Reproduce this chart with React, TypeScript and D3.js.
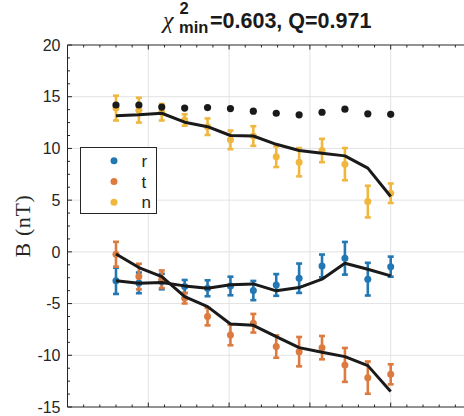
import React from "react";
import * as d3 from "d3";

const times = [36, 53, 70, 87, 104, 121, 138, 155, 172, 189, 206, 223, 240];
const bMag = [14.2, 14.2, 14.0, 13.9, 13.95, 13.85, 13.6, 13.4, 13.25, 13.5, 13.8, 13.35, 13.3];
const rObs = [-2.8, -3.0, -2.87, -3.35, -3.52, -3.3, -3.74, -3.2, -2.55, -1.36, -0.62, -2.64, -1.43];
const rErr = [1.27, 1.0, 0.75, 0.63, 0.77, 0.9, 0.93, 1.05, 1.42, 1.1, 1.58, 1.58, 0.97];
const tObs = [-0.23, -2.39, -2.65, -4.48, -6.26, -8.03, -6.9, -9.16, -9.65, -9.26, -10.93, -12.16, -11.84];
const tErr = [1.2, 1.24, 0.85, 0.51, 0.85, 1.0, 0.9, 1.08, 1.42, 1.13, 1.64, 1.56, 0.97];
const nObs = [13.9, 13.7, 13.5, 12.75, 12.1, 10.83, 11.2, 9.2, 8.67, 9.8, 8.48, 4.86, 5.67];
const nErr = [1.2, 1.2, 0.8, 0.55, 0.8, 0.9, 0.95, 1.0, 1.37, 1.13, 1.56, 1.53, 0.94];
const rFit = [-2.8, -3.03, -2.97, -3.29, -3.52, -3.19, -3.1, -3.77, -3.45, -2.64, -1.1, -1.68, -2.32];
const tFit = [-0.2, -1.52, -2.39, -4.33, -5.29, -6.97, -7.1, -8.19, -9.26, -9.71, -10.13, -11.0, -13.5];
const nFit = [13.15, 13.25, 13.4, 12.54, 12.1, 11.25, 11.2, 10.4, 9.8, 9.54, 9.28, 8.1, 5.35];

const seriesNames = ["r", "t", "n"];
const seriesColors = ["#2377b3", "#dc7b3f", "#f0b73e"];
const yTicks = [-15, -10, -5, 0, 5, 10, 15, 20];
const xMajor = [0, 60, 120, 180, 240, 300];

const W = 464;
const H = 416;

export default function App() {
  const x = d3.scaleLinear().domain([0, 300]).range([67.5, 471.5]);
  const y = d3.scaleLinear().domain([-15, 20]).range([407, 45]);
  const obs = [rObs, tObs, nObs];
  const errs = [rErr, tErr, nErr];
  const fits = [rFit, tFit, nFit];
  const line = d3
    .line<number>()
    .x((_, i) => x(times[i]))
    .y((d) => y(d));
  const xMinor = d3.range(0, 301, 12).filter((v) => v % 60 !== 0);
  const yMinor = d3.range(-15, 20.01, 1.25).filter((v) => Math.abs(v % 5) > 1e-6);
  const [x0, x1] = x.range();
  const [yb, yt] = y.range();
  const cx = (x0 + x1) / 2;
  const axisCol = "#262626";
  const sans = "'Liberation Sans', Arial, Helvetica, sans-serif";

  return (
    <svg
      width={W}
      height={H}
      style={{ position: "absolute", left: 0, top: 0, background: "#fff" }}
    >
      <rect x={0} y={0} width={W} height={H} fill="#fff" />
      {xMajor.slice(1, -1).map((v) => (
        <line key={"gx" + v} x1={x(v)} x2={x(v)} y1={yb} y2={yt} stroke="#e3e3e3" strokeWidth={1} />
      ))}
      {yTicks.slice(1, -1).map((v) => (
        <line key={"gy" + v} x1={x0} x2={x1} y1={y(v)} y2={y(v)} stroke="#e3e3e3" strokeWidth={1} />
      ))}
      {obs.map((s, si) =>
        s.map((v, i) => {
          const px = x(times[i]);
          const e = errs[si][i];
          const c = seriesColors[si];
          return (
            <g key={"e" + si + "-" + i} stroke={c} strokeWidth={2.6}>
              <line x1={px} x2={px} y1={y(v - e)} y2={y(v + e)} />
              <line x1={px - 3} x2={px + 3} y1={y(v - e)} y2={y(v - e)} />
              <line x1={px - 3} x2={px + 3} y1={y(v + e)} y2={y(v + e)} />
            </g>
          );
        })
      )}
      {obs.map((s, si) =>
        s.map((v, i) => (
          <circle key={"m" + si + "-" + i} cx={x(times[i])} cy={y(v)} r={3.5} fill={seriesColors[si]} />
        ))
      )}
      {fits.map((f, si) => (
        <path key={"f" + si} d={line(f) || ""} fill="none" stroke="#1a1a1a" strokeWidth={3} strokeLinejoin="round" />
      ))}
      {bMag.map((v, i) => (
        <circle key={"b" + i} cx={x(times[i])} cy={y(v)} r={3.6} fill="#1a1a1a" />
      ))}
      <g stroke={axisCol} strokeWidth={1} fill="none">
        <line x1={x0} x2={x1} y1={yb} y2={yb} />
        <line x1={x0} x2={x1} y1={yt} y2={yt} />
        <line x1={x0} x2={x0} y1={yb} y2={yt} />
        <line x1={x1} x2={x1} y1={yb} y2={yt} />
        {xMajor.map((v) => (
          <g key={"xt" + v}>
            <line x1={x(v)} x2={x(v)} y1={yb} y2={yb - 4.5} />
            <line x1={x(v)} x2={x(v)} y1={yt} y2={yt + 4.5} />
          </g>
        ))}
        {xMinor.map((v) => (
          <g key={"xm" + v}>
            <line x1={x(v)} x2={x(v)} y1={yb} y2={yb - 2.5} />
            <line x1={x(v)} x2={x(v)} y1={yt} y2={yt + 2.5} />
          </g>
        ))}
        {yTicks.map((v) => (
          <line key={"yt" + v} x1={x0} x2={x0 + 4.5} y1={y(v)} y2={y(v)} />
        ))}
        {yMinor.map((v) => (
          <line key={"ym" + v} x1={x0} x2={x0 + 2.5} y1={y(v)} y2={y(v)} />
        ))}
      </g>
      {yTicks.map((v) => (
        <text
          key={"yl" + v}
          x={x0 - 7}
          y={y(v)}
          dy="0.36em"
          textAnchor="end"
          fontFamily={sans}
          fontSize={16}
          fill={axisCol}
        >
          {v}
        </text>
      ))}
      <text
        transform={`translate(29.5, ${(yb + yt) / 2}) rotate(-90)`}
        textAnchor="middle"
        fontFamily="'Liberation Serif', 'Times New Roman', serif"
        fontSize={22}
        letterSpacing={0.6}
        fill={axisCol}
      >
        B (nT)
      </text>
      <g fill="#1a1a1a">
        <text x={cx - 106.5} y={28} fontFamily="'Liberation Serif', serif" fontStyle="italic" fontSize={24}>
          χ
        </text>
        <text x={cx - 90} y={14} fontFamily={sans} fontWeight="bold" fontSize={16.5}>
          2
        </text>
        <text x={cx - 90.5} y={33} fontFamily={sans} fontWeight="bold" fontSize={16.5}>
          min
        </text>
        <text x={cx - 59.5} y={28} fontFamily={sans} fontWeight="bold" fontSize={21.5}>
          =0.603, Q=0.971
        </text>
      </g>
      <g>
        <rect x={80.5} y={147.5} width={76} height={66} fill="#fff" stroke={axisCol} strokeWidth={1} />
        {seriesNames.map((nm, i) => (
          <g key={"lg" + nm}>
            <circle cx={114} cy={160.7 + i * 20.8} r={3.5} fill={seriesColors[i]} />
            <text x={141.5} y={160.7 + i * 20.8} dy="0.36em" fontFamily={sans} fontSize={17} fill={axisCol}>
              {nm}
            </text>
          </g>
        ))}
      </g>
    </svg>
  );
}
